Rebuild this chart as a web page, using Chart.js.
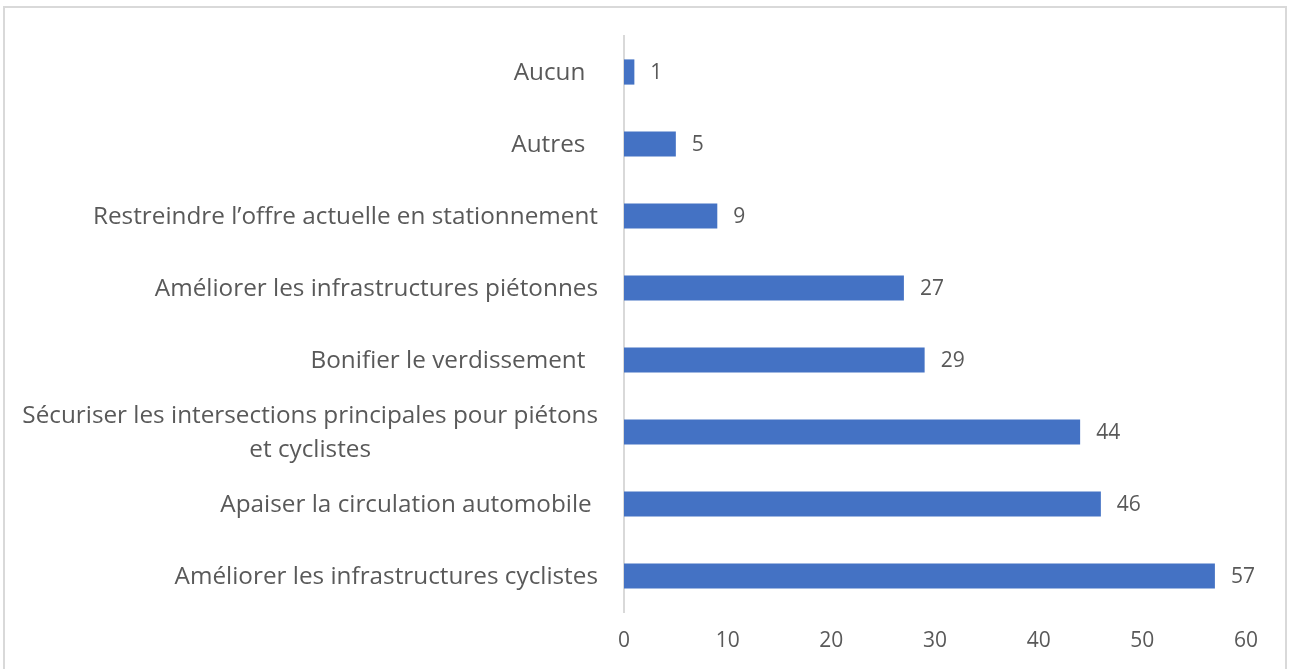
<!DOCTYPE html>
<html>
<head>
<meta charset="utf-8">
<script src="https://cdn.jsdelivr.net/npm/chart.js@4.4.1/dist/chart.umd.min.js"></script>
<style>
  html, body { margin: 0; padding: 0; background: #ffffff; overflow: hidden; }
  #frame { position: absolute; left: 3px; top: 6px; width: 1284px; height: 720px; border: 2px solid #d9d9d9; box-sizing: border-box; }
  #wrap { position: absolute; left: 0; top: 0; width: 1289px; height: 669px; }
</style>
</head>
<body>
<div id="frame"></div>
<div id="wrap"><canvas id="c" width="1289" height="669"></canvas></div>
<script>
const categories = [
  "Aucun  ",
  "Autres  ",
  "Restreindre l’offre actuelle en stationnement",
  "Améliorer les infrastructures piétonnes",
  "Bonifier le verdissement  ",
  ["Sécuriser les intersections principales pour piétons", "et cyclistes"],
  "Apaiser la circulation automobile ",
  "Améliorer les infrastructures cyclistes"
];
const values = [1, 5, 9, 27, 29, 44, 46, 57];
const xTicks = [0, 10, 20, 30, 40, 50, 60];

const TEXT = '#595959';
const FONT_FAMILY = '"Open Sans", Lato, sans-serif';

const categoryLabels = {
  id: 'categoryLabels',
  afterDraw(chart) {
    const ctx = chart.ctx;
    const scale = chart.scales.y;
    ctx.save();
    ctx.fillStyle = TEXT;
    ctx.font = '24.3px ' + FONT_FAMILY;
    ctx.textBaseline = 'middle';
    const xRight = chart.chartArea.left - 26;
    categories.forEach((lab, i) => {
      const y = scale.getPixelForTick(i) + 1;
      if (Array.isArray(lab)) {
        const lh = 34;
        const w = Math.max(...lab.map(l => ctx.measureText(l).width));
        const cx = xRight - w / 2;
        ctx.textAlign = 'center';
        lab.forEach((l, k) => {
          ctx.fillText(l, cx, y + (k - (lab.length - 1) / 2) * lh);
        });
      } else {
        ctx.textAlign = 'right';
        ctx.fillText(lab, xRight, y);
      }
    });
    ctx.restore();
  }
};

const valueLabels = {
  id: 'valueLabels',
  afterDatasetsDraw(chart) {
    const ctx = chart.ctx;
    const meta = chart.getDatasetMeta(0);
    ctx.save();
    ctx.fillStyle = TEXT;
    ctx.font = '21px ' + FONT_FAMILY;
    ctx.textAlign = 'left';
    ctx.textBaseline = 'middle';
    meta.data.forEach((bar, i) => {
      ctx.fillText(String(values[i]), bar.x + 16, bar.y + 1);
    });
    ctx.restore();
  }
};

new Chart(document.getElementById('c'), {
  type: 'bar',
  data: {
    labels: categories,
    datasets: [{
      data: values,
      backgroundColor: '#4472C4',
      borderWidth: 0,
      barPercentage: 0.35,
      categoryPercentage: 1
    }]
  },
  options: {
    indexAxis: 'y',
    responsive: false,
    animation: false,
    layout: { padding: { left: 0, right: 43, top: 36, bottom: 0 } },
    plugins: { legend: { display: false }, tooltip: { enabled: false } },
    scales: {
      y: {
        grid: { display: false, drawTicks: false },
        border: { display: true, color: '#d9d9d9', width: 2 },
        ticks: { display: false },
        afterFit(scale) { scale.width = 624; }
      },
      x: {
        min: 0,
        max: 60,
        grid: { display: false, drawTicks: false },
        border: { display: false },
        ticks: {
          stepSize: 10,
          color: TEXT,
          font: { family: FONT_FAMILY, size: 21 },
          padding: 16,
          callback: (v) => xTicks.includes(v) ? String(v) : ''
        },
        afterFit(scale) { scale.height = 57; }
      }
    }
  },
  plugins: [categoryLabels, valueLabels]
});
</script>
</body>
</html>
